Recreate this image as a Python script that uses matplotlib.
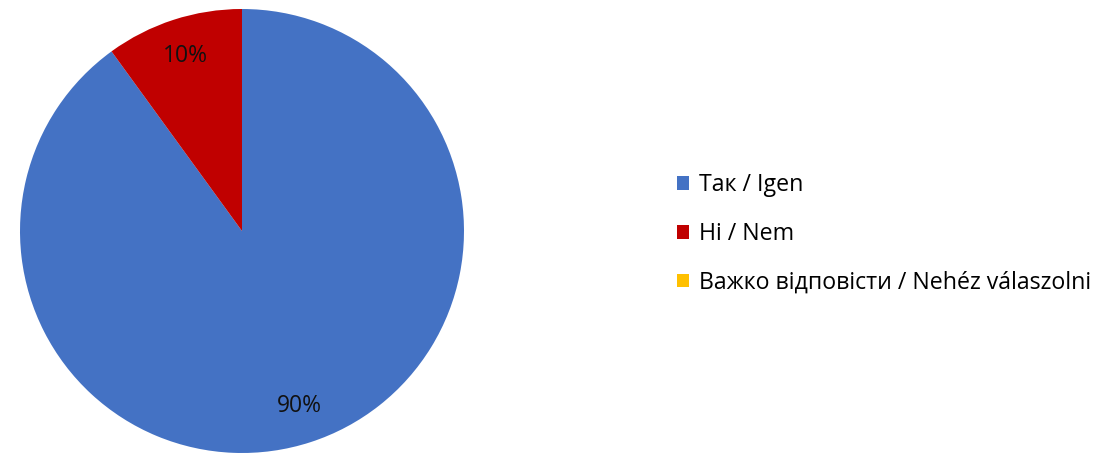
import matplotlib
matplotlib.use("Agg")
import matplotlib.pyplot as plt

labels = ["Так / Igen", "Ні / Nem", "Важко відповісти / Nehéz válaszolni"]
values = [90, 10, 0]
colors = ["#4472C4", "#C00000", "#FFC000"]

plt.rcParams['font.family'] = ['Open Sans', 'DejaVu Sans']

fig = plt.figure(figsize=(10.94, 4.53), dpi=100)
ax = fig.add_axes([20/1094, 0/453, 444/1094, 444/453])

def fmt(p):
    return f"{p:.0f}%" if p > 0 else ""

wedges, texts, autotexts = ax.pie(values, colors=colors, startangle=90, counterclock=False,
                                  autopct=fmt, pctdistance=0.83,
                                  wedgeprops=dict(linewidth=0),
                                  textprops=dict(fontsize=16.5, color="#111111"))
ax.set_xlim(-1, 1)
ax.set_ylim(-1, 1)
ax.set_aspect('equal')

leg = fig.legend(wedges, labels, loc="center left", bbox_to_anchor=(656/1094, 1 - 234/453),
                 frameon=False, fontsize=16.7, handlelength=0.52, handleheight=0.52,
                 handletextpad=0.44, labelspacing=1.07)
fig.savefig("out.png", dpi=100)
